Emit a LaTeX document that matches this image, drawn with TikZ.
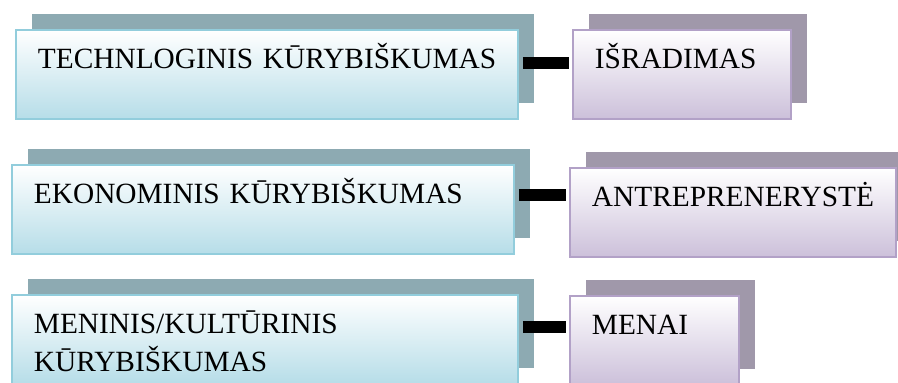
\documentclass[tikz,border=0pt]{standalone}
\usepackage{fontspec}
\setmainfont{Liberation Serif}
\usetikzlibrary{shadows}
\definecolor{TealShade}{HTML}{8DAAB2}
\definecolor{SkyLine}{HTML}{92CDDC}
\definecolor{SkyFill}{HTML}{B6DDE8}
\definecolor{PlumShade}{HTML}{A098AA}
\definecolor{LilacLine}{HTML}{B2A1C7}
\definecolor{LilacFill}{HTML}{CCC0DA}
\hyphenpenalty=10000

\begin{document}
\begin{tikzpicture}[
  card/.style={anchor=north west,line width=1.1pt,top color=white,inner ysep=0pt,inner xsep=0.44cm,text height=0.78cm,text depth=1.0cm,align=left,font=\fontsize{16.7pt}{21.6pt}\selectfont},
  kind/.style={card,draw=SkyLine,bottom color=SkyFill,general shadow={fill=TealShade,shadow xshift=0.32cm,shadow yshift=0.31cm}},
  field/.style={card,draw=LilacLine,bottom color=LilacFill,general shadow={fill=PlumShade,shadow xshift=0.32cm,shadow yshift=0.31cm}},
  link/.style={line width=0.24cm,shorten <=0.08cm,shorten >=0.06cm}
]
\useasboundingbox (0,0) rectangle (17.96,-7.66);

\node[kind,text width=9.16cm] (tech) at (0.30,-0.58) {TECHNLOGINIS~KŪRYBIŠKUMAS};
\node[field,text width=3.48cm] (invent) at (11.44,-0.58) {IŠRADIMAS};
\node[kind,text width=9.16cm] (econ) at (0.22,-3.28) {EKONOMINIS~KŪRYBIŠKUMAS};
\node[field,text width=5.64cm] (entre) at (11.38,-3.34) {ANTREPRENERYSTĖ};
\node[kind,text width=9.24cm] (art) at (0.22,-5.88) {MENINIS/KULTŪRINIS\\KŪRYBIŠKUMAS};
\node[field,text width=2.50cm] (arts) at (11.38,-5.90) {MENAI};

\draw[link] ([yshift=-0.68cm]tech.north east) -- ([yshift=-0.68cm]tech.north east -| invent.west);
\draw[link] ([yshift=-0.62cm]econ.north east) -- ([yshift=-0.62cm]econ.north east -| entre.west);
\draw[link] ([yshift=-0.66cm]art.north east) -- ([yshift=-0.66cm]art.north east -| arts.west);
\end{tikzpicture}
\end{document}
